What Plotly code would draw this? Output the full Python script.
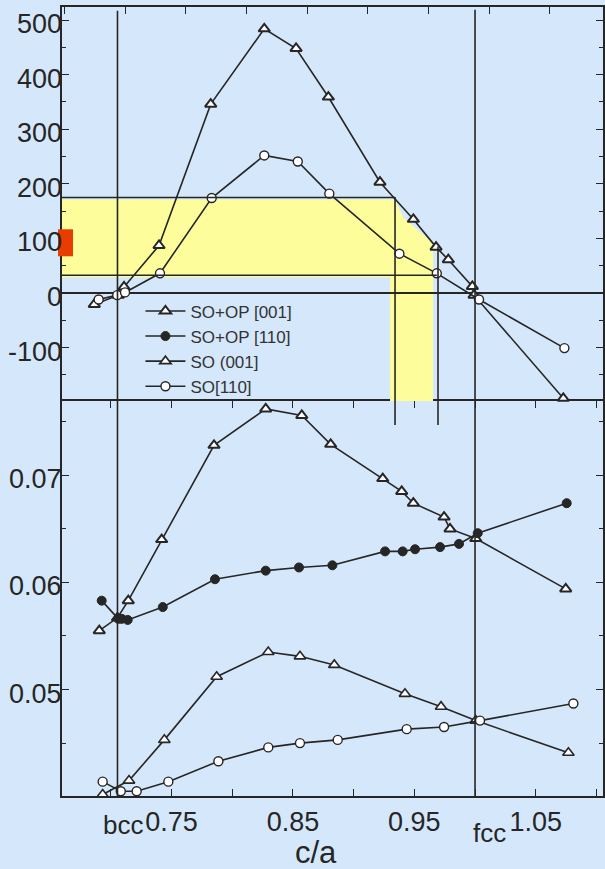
import plotly.graph_objects as go

# ---------------- data ----------------
# top panel (energy)
top_tri_x = [0.6864, 0.7062, 0.7109, 0.7397, 0.7823, 0.8264, 0.8526, 0.8792, 0.9217, 0.9492, 0.9679, 0.978, 0.9978, 0.9992, 1.0727]
top_tri_y = [-21, -4, 11, 87, 346, 484, 448, 359, 203, 135, 84, 61, 12, -4, -193]
top_circ_x = [0.690, 0.7053, 0.7117, 0.7405, 0.7831, 0.8264, 0.854, 0.880, 0.9377, 0.9685, 1.0033, 1.0736]
top_circ_y = [-12, -4, 1, 36, 174, 252, 241, 182, 72, 36, -12, -101]

# bottom panel
sop001_x = [0.6905, 0.7055, 0.7144, 0.7419, 0.785, 0.8276, 0.8573, 0.8811, 0.924, 0.9396, 0.9492, 0.9745, 0.9794, 1.0006, 1.0747]
sop001_y = [0.0555, 0.0567, 0.0583, 0.0640, 0.0728, 0.0762, 0.0756, 0.0729, 0.0697, 0.0685, 0.0674, 0.0661, 0.0650, 0.0641, 0.0594]
sop110_x = [0.6925, 0.7062, 0.7090, 0.7139, 0.7428, 0.7858, 0.8276, 0.855, 0.8825, 0.9259, 0.9404, 0.9506, 0.9712, 0.9868, 1.0022, 1.0755]
sop110_y = [0.0583, 0.0566, 0.0566, 0.0565, 0.0577, 0.0603, 0.0611, 0.0614, 0.0616, 0.0629, 0.0629, 0.0631, 0.0633, 0.0636, 0.0646, 0.0674]
so001_x = [0.6933, 0.715, 0.7441, 0.7872, 0.8297, 0.8558, 0.8841, 0.9423, 0.972, 1.0006, 1.0769]
so001_y = [0.0402, 0.0415, 0.0453, 0.0512, 0.0535, 0.0531, 0.0523, 0.0496, 0.0484, 0.0471, 0.0441]
so110_x = [0.6933, 0.7082, 0.7213, 0.7474, 0.7886, 0.8297, 0.8558, 0.8869, 0.9437, 0.9745, 1.0041, 1.081]
so110_y = [0.0414, 0.0405, 0.0405, 0.0414, 0.0433, 0.0446, 0.0450, 0.0453, 0.0463, 0.0465, 0.0471, 0.0487]

series_names = ["SO+OP [001]", "SO+OP [110]", "SO (001]", "SO[110]"]

x_tick_vals = [0.70, 0.75, 0.80, 0.85, 0.90, 0.95, 1.00, 1.05, 1.10]
x_tick_text = ["", "0.75", "", "0.85", "", "0.95", "", "1.05", ""]
top_y_ticks = [-100, 0, 100, 200, 300, 400, 500]
top_y_text = ["-100", "0", "100", "200", "300", "400", "500"]
bot_y_ticks = [0.05, 0.06, 0.07]
bot_y_text = ["0.05", "0.06", "0.07"]

BCC = 0.7055
FCC = 1.0
band_top, band_bot = 175, 32.4   # horizontal band lines (energy units)
v1_x, v2_x = 0.9341, 0.9695      # vertical marker lines

# ---------------- style ----------------
BG = "#d5e8fb"
INK = "#262626"
FONT = "Liberation Sans, Arial, sans-serif"
X_RANGE = [0.6598, 1.1054]
TOP_RANGE = [-198, 524]
BOT_RANGE = [0.04006, 0.07694]
SPLIT = 0.5006

fig = go.Figure()

def line_kw():
    return dict(color=INK, width=1.6)

tri_marker = dict(symbol="triangle-up", size=10, color="white", line=dict(color=INK, width=1.6))
tri_marker_dark = dict(symbol="triangle-up", size=10, color="white", line=dict(color=INK, width=2.0))
circ_open = dict(symbol="circle", size=9, color="white", line=dict(color=INK, width=1.4))
circ_fill = dict(symbol="circle", size=9, color=INK, line=dict(color=INK, width=1))

# top panel traces
fig.add_trace(go.Scatter(x=top_tri_x, y=top_tri_y, xaxis="x2", yaxis="y2", mode="lines+markers",
                         line=line_kw(), marker=tri_marker_dark, showlegend=False, cliponaxis=False))
fig.add_trace(go.Scatter(x=top_circ_x, y=top_circ_y, xaxis="x2", yaxis="y2", mode="lines+markers",
                         line=line_kw(), marker=circ_open, showlegend=False, cliponaxis=False))

# bottom panel traces
fig.add_trace(go.Scatter(x=sop001_x, y=sop001_y, mode="lines+markers", name=series_names[0],
                         line=line_kw(), marker=tri_marker_dark, cliponaxis=False))
fig.add_trace(go.Scatter(x=sop110_x, y=sop110_y, mode="lines+markers", name=series_names[1],
                         line=line_kw(), marker=circ_fill, cliponaxis=False))
fig.add_trace(go.Scatter(x=so001_x, y=so001_y, mode="lines+markers", name=series_names[2],
                         line=line_kw(), marker=tri_marker, cliponaxis=False))
fig.add_trace(go.Scatter(x=so110_x, y=so110_y, mode="lines+markers", name=series_names[3],
                         line=line_kw(), marker=circ_open, cliponaxis=False))

shapes = []
# yellow highlight polygon (top panel data coordinates)
yellow_path = ("M 0.6573,171.4 L 0.9341,171.4 L 0.9407,138.6 L 0.9654,91 L 0.9654,-206 "
               "L 0.930,-206 L 0.930,28.9 L 0.6573,28.9 Z")
shapes.append(dict(type="path", path=yellow_path, xref="x2", yref="y2", fillcolor="#fdfd9c",
                   line=dict(width=0), layer="below"))
# red marker on axis
shapes.append(dict(type="rect", xref="paper", yref="y2", x0=-0.0074, x1=0.0203, y0=67.2, y1=116.7,
                   fillcolor="#e83c00", line=dict(width=0), layer="above"))
# band lines
shapes.append(dict(type="line", xref="x2", yref="y2", x0=X_RANGE[0], x1=v1_x, y0=band_top, y1=band_top,
                   line=dict(color=INK, width=1.6)))
shapes.append(dict(type="line", xref="x2", yref="y2", x0=X_RANGE[0], x1=0.9685, y0=band_bot, y1=band_bot,
                   line=dict(color=INK, width=1.6)))
# vertical marker lines crossing into the lower panel
shapes.append(dict(type="line", xref="x", yref="paper", x0=v1_x, x1=v1_x, y0=0.4702, y1=0.7592,
                   line=dict(color=INK, width=1.6)))
shapes.append(dict(type="line", xref="x", yref="paper", x0=v2_x, x1=v2_x, y0=0.4702, y1=0.6965,
                   line=dict(color=INK, width=1.6)))
# bcc / fcc lines
shapes.append(dict(type="line", xref="x", yref="paper", x0=BCC, x1=BCC, y0=0, y1=0.9953,
                   line=dict(color=INK, width=1.6)))
shapes.append(dict(type="line", xref="x", yref="paper", x0=FCC, x1=FCC, y0=0, y1=0.9965,
                   line=dict(color=INK, width=1.6)))

annotations = [
    dict(text="bcc", x=0.1128, xref="paper", y=-0.0365, yref="paper", showarrow=False,
         font=dict(size=26, color=INK, family=FONT), xanchor="center", yanchor="middle"),
    dict(text="fcc", x=0.791, xref="paper", y=-0.0475, yref="paper", showarrow=False,
         font=dict(size=26, color=INK, family=FONT), xanchor="center", yanchor="middle"),
    dict(text="c/a", x=0.47, xref="paper", y=-0.0715, yref="paper", showarrow=False,
         font=dict(size=31, color=INK, family=FONT), xanchor="center", yanchor="middle"),
]
# y tick labels placed tight against the axis (as in the reference)
for v, t in zip(top_y_ticks, top_y_text):
    annotations.append(dict(text=t, x=0.004, xref="paper", y=v, yref="y2", yshift=-4,
                            showarrow=False, xanchor="right", yanchor="middle",
                            font=dict(size=27, color=INK, family=FONT)))
for v, t in zip(bot_y_ticks, bot_y_text):
    annotations.append(dict(text=t, x=0.004, xref="paper", y=v, yref="y", yshift=-4,
                            showarrow=False, xanchor="right", yanchor="middle",
                            font=dict(size=27, color=INK, family=FONT)))

axis_common = dict(showline=True, linecolor=INK, linewidth=1.6, showgrid=False, zeroline=False,
                   ticks="inside", tickcolor=INK, tickwidth=1.4, ticklen=7, automargin=False,
                   tickfont=dict(size=27, color=INK, family=FONT))

fig.update_layout(
    width=605, height=869,
    margin=dict(l=62, r=2, t=7, b=73),
    paper_bgcolor=BG, plot_bgcolor=BG,
    font=dict(family=FONT, color=INK),
    xaxis=dict(axis_common, range=X_RANGE, anchor="y", mirror="ticks",
               tickmode="array", tickvals=x_tick_vals, ticktext=x_tick_text, ticklabelstandoff=1),
    xaxis2=dict(axis_common, range=X_RANGE, anchor="y2", side="top", matches="x",
                tickmode="array", tickvals=[v - 0.0383 for v in x_tick_vals], showticklabels=False),
    yaxis=dict(axis_common, range=BOT_RANGE, domain=[0, SPLIT], anchor="x", mirror="ticks",
               tickmode="array", tickvals=bot_y_ticks, showticklabels=False,
               minor=dict(ticks="inside", ticklen=4, tickcolor=INK, dtick=0.005, tick0=0.045)),
    yaxis2=dict(axis_common, range=TOP_RANGE, domain=[SPLIT, 1], anchor="x2", mirror="ticks",
                tickmode="array", tickvals=top_y_ticks, showticklabels=False,
                zeroline=True, zerolinecolor=INK, zerolinewidth=1.6,
                minor=dict(ticks="inside", ticklen=4, tickcolor=INK, dtick=50, tick0=-150)),
    legend=dict(x=0.145, y=0.637, xanchor="left", yanchor="top", bgcolor="rgba(0,0,0,0)",
                font=dict(size=17, color="#333333", family=FONT), itemwidth=40,
                tracegroupgap=0),
    shapes=shapes,
    annotations=annotations,
)

fig.write_html("out.html")
